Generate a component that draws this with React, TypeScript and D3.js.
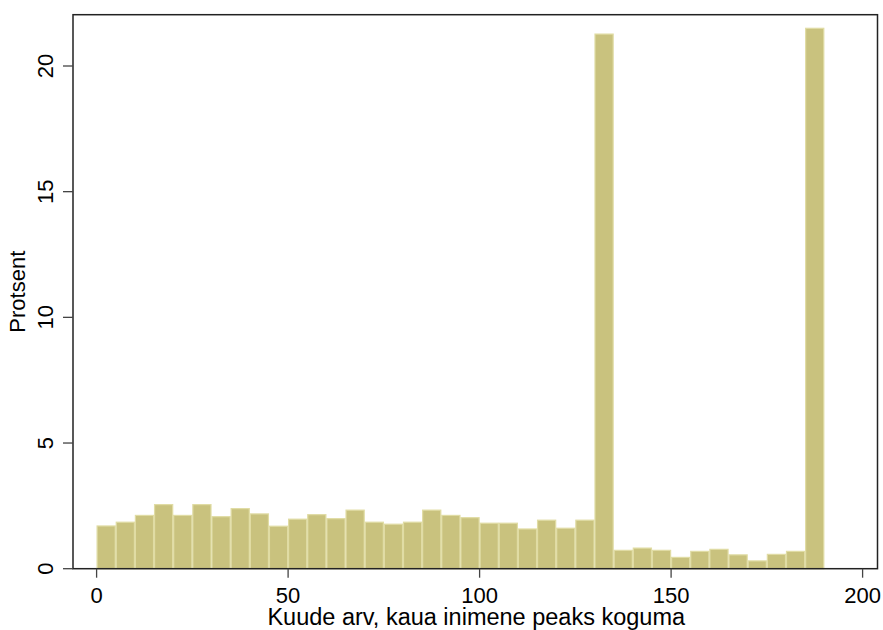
import React from "react";
import * as d3 from "d3";

const binEdges: number[] = d3.range(0, 190, 5);
const percents: number[] = [
  1.7, 1.85, 2.12, 2.55, 2.12, 2.55, 2.07, 2.39, 2.18, 1.69,
  1.97, 2.15, 1.99, 2.33, 1.85, 1.77, 1.85, 2.33, 2.12, 2.03,
  1.81, 1.81, 1.58, 1.93, 1.61, 1.93, 21.27, 0.73, 0.82, 0.73,
  0.45, 0.69, 0.77, 0.55, 0.31, 0.57, 0.69, 21.5,
];
const binWidth = 5;
const xTicks: number[] = [0, 50, 100, 150, 200];
const yTicks: number[] = [0, 5, 10, 15, 20];
const xTitle = "Kuude arv, kaua inimene peaks koguma";
const yTitle = "Protsent";

export default function App() {
  const W = 883, H = 630;
  const frame = { l: 73, r: 877.5, t: 14.7, b: 568.7 };
  const x = d3.scaleLinear().domain([0, 200]).range([96.6, 862.6]);
  const y = d3.scaleLinear().domain([0, 20]).range([568.7, 66]);
  const font = "'Liberation Sans', Arial, sans-serif";
  const axisColor = "#222";
  const fs = 22;
  return (
    <svg width={W} height={H} style={{ position: "absolute", left: 0, top: 0, background: "#fff" }} fontFamily={font}>
      <rect x={0} y={0} width={W} height={H} fill="#fff" />
      {percents.map((p, i) => {
        const x0 = x(binEdges[i]);
        const x1 = x(binEdges[i] + binWidth);
        return (
          <rect key={i} x={x0 + 0.5} y={y(p)} width={x1 - x0 - 1} height={y(0) - y(p)}
            fill="#c9c27e" stroke="#e0dca4" strokeWidth={1.2} />
        );
      })}
      <rect x={frame.l} y={frame.t} width={frame.r - frame.l} height={frame.b - frame.t}
        fill="none" stroke={axisColor} strokeWidth={1.5} />
      {xTicks.map((t) => (
        <g key={"x" + t}>
          <line x1={x(t)} x2={x(t)} y1={frame.b} y2={frame.b + 9} stroke="#444" strokeWidth={1.3} />
          <text x={x(t)} y={603} textAnchor="middle" fontSize={fs} fill="#000">{t}</text>
        </g>
      ))}
      {yTicks.map((t) => (
        <g key={"y" + t}>
          <line x1={frame.l - 10} x2={frame.l} y1={y(t)} y2={y(t)} stroke="#444" strokeWidth={1.3} />
          <text transform={`translate(53,${y(t)}) rotate(-90)`} textAnchor="middle" fontSize={fs} fill="#000">{t}</text>
        </g>
      ))}
      <text x={(frame.l + frame.r) / 2 + 1} y={625} textAnchor="middle" fontSize={23.5} fill="#000">{xTitle}</text>
      <text transform={`translate(25,${(frame.t + frame.b) / 2}) rotate(-90)`} textAnchor="middle" fontSize={fs} fill="#000">{yTitle}</text>
    </svg>
  );
}
